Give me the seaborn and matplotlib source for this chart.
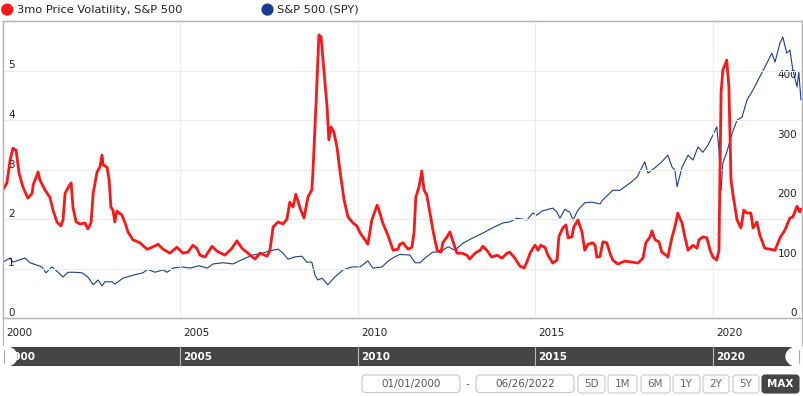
import seaborn as sb
from matplotlib import pyplot as plt
from matplotlib.patches import Ellipse, Circle, FancyBboxPatch

# 3mo price volatility (left axis)
vol_years = [
    2000.00, 2000.11, 2000.20, 2000.28, 2000.37, 2000.45, 2000.56, 2000.70, 2000.82, 2000.85,
    2000.99, 2001.04, 2001.18, 2001.32, 2001.41, 2001.52, 2001.63, 2001.69, 2001.75, 2001.83,
    2001.92, 2001.97, 2002.06, 2002.17, 2002.31, 2002.39, 2002.48, 2002.54, 2002.65, 2002.73,
    2002.79, 2002.82, 2002.93, 2002.99, 2003.04, 2003.10, 2003.15, 2003.21, 2003.35, 2003.44,
    2003.52, 2003.66, 2003.86, 2004.06, 2004.20, 2004.37, 2004.51, 2004.70, 2004.90, 2005.07,
    2005.21, 2005.35, 2005.46, 2005.55, 2005.69, 2005.89, 2006.03, 2006.25, 2006.45, 2006.59,
    2006.73, 2006.90, 2007.10, 2007.24, 2007.44, 2007.52, 2007.61, 2007.75, 2007.89, 2008.00,
    2008.08, 2008.17, 2008.25, 2008.37, 2008.48, 2008.59, 2008.70, 2008.73, 2008.82, 2008.90,
    2008.96, 2009.04, 2009.13, 2009.18, 2009.24, 2009.32, 2009.41, 2009.49, 2009.61, 2009.72,
    2009.86, 2009.97, 2010.06, 2010.20, 2010.28, 2010.39, 2010.54, 2010.59, 2010.70, 2010.85,
    2010.99, 2011.13, 2011.18, 2011.27, 2011.41, 2011.52, 2011.58, 2011.63, 2011.72, 2011.80,
    2011.86, 2011.94, 2012.03, 2012.11, 2012.23, 2012.34, 2012.39, 2012.51, 2012.59, 2012.68,
    2012.79, 2012.93, 2013.07, 2013.15, 2013.30, 2013.44, 2013.52, 2013.63, 2013.77, 2013.92,
    2014.06, 2014.20, 2014.28, 2014.42, 2014.56, 2014.68, 2014.76, 2014.85, 2014.93, 2014.99,
    2015.07, 2015.15, 2015.27, 2015.35, 2015.49, 2015.61, 2015.66, 2015.77, 2015.86, 2015.92,
    2016.03, 2016.08, 2016.20, 2016.31, 2016.39, 2016.48, 2016.62, 2016.68, 2016.73, 2016.82,
    2016.90, 2017.01, 2017.10, 2017.18, 2017.32, 2017.52, 2017.72, 2017.89, 2018.03, 2018.11,
    2018.23, 2018.28, 2018.37, 2018.48, 2018.56, 2018.68, 2018.73, 2018.85, 2018.93, 2019.01,
    2019.13, 2019.21, 2019.30, 2019.44, 2019.55, 2019.61, 2019.72, 2019.83, 2019.92, 2020.00,
    2020.11, 2020.17, 2020.23, 2020.28, 2020.39, 2020.45, 2020.51, 2020.56, 2020.68, 2020.79,
    2020.87, 2020.96, 2021.07, 2021.13, 2021.24, 2021.32, 2021.46, 2021.61, 2021.75, 2021.89,
    2022.03, 2022.17, 2022.25, 2022.37, 2022.45, 2022.48,
]
vol_values = [
    2.59, 2.73, 3.19, 3.43, 3.39, 2.93, 2.65, 2.42, 2.52, 2.69,
    2.95, 2.79, 2.59, 2.44, 2.18, 1.94, 1.86, 1.98, 2.52, 2.63,
    2.73, 2.24, 1.94, 1.90, 1.92, 1.80, 1.92, 2.52, 2.95, 3.05,
    3.29, 3.09, 3.05, 2.79, 2.24, 2.18, 1.94, 2.16, 2.08, 1.92,
    1.74, 1.58, 1.52, 1.39, 1.43, 1.49, 1.39, 1.31, 1.43, 1.31,
    1.33, 1.47, 1.41, 1.27, 1.23, 1.45, 1.35, 1.27, 1.41, 1.56,
    1.41, 1.31, 1.19, 1.31, 1.25, 1.37, 1.84, 1.94, 1.90, 2.00,
    2.34, 2.24, 2.50, 2.22, 2.02, 2.44, 2.59, 2.93, 4.34, 5.72,
    5.68, 5.01, 4.26, 3.60, 3.86, 3.76, 3.45, 2.99, 2.38, 2.04,
    1.92, 1.86, 1.72, 1.58, 1.49, 1.98, 2.28, 2.18, 1.92, 1.66,
    1.37, 1.39, 1.49, 1.52, 1.39, 1.43, 1.72, 2.44, 2.65, 2.97,
    2.59, 2.48, 2.12, 1.78, 1.37, 1.33, 1.52, 1.64, 1.74, 1.54,
    1.31, 1.31, 1.27, 1.19, 1.31, 1.37, 1.45, 1.37, 1.23, 1.27,
    1.21, 1.31, 1.33, 1.21, 1.05, 1.01, 1.13, 1.31, 1.41, 1.47,
    1.37, 1.47, 1.43, 1.27, 1.11, 1.17, 1.64, 1.82, 1.88, 1.62,
    1.64, 1.84, 1.98, 1.74, 1.37, 1.49, 1.52, 1.47, 1.23, 1.24,
    1.54, 1.52, 1.31, 1.17, 1.09, 1.15, 1.13, 1.11, 1.21, 1.52,
    1.64, 1.76, 1.58, 1.54, 1.33, 1.27, 1.23, 1.64, 1.84, 2.12,
    1.92, 1.64, 1.37, 1.47, 1.41, 1.58, 1.64, 1.62, 1.37, 1.23,
    1.17, 1.37, 4.55, 5.01, 5.21, 4.67, 2.79, 2.52, 1.98, 1.82,
    2.18, 2.12, 2.12, 1.82, 1.94, 1.68, 1.41, 1.39, 1.37, 1.62,
    1.78, 2.02, 2.04, 2.26, 2.14, 2.20,
]

# S&P 500 (SPY) price (right axis)
spy_years = [
    2000.00, 2000.20, 2000.28, 2000.62, 2000.76, 2000.96, 2001.10, 2001.21, 2001.38, 2001.55,
    2001.69, 2001.83, 2002.03, 2002.23, 2002.39, 2002.54, 2002.68, 2002.79, 2002.87, 2003.07,
    2003.15, 2003.38, 2003.66, 2003.94, 2004.08, 2004.28, 2004.51, 2004.62, 2004.79, 2005.04,
    2005.27, 2005.52, 2005.75, 2005.92, 2006.20, 2006.48, 2006.76, 2007.04, 2007.30, 2007.52,
    2007.75, 2007.89, 2008.03, 2008.23, 2008.42, 2008.56, 2008.70, 2008.79, 2008.87, 2008.99,
    2009.15, 2009.35, 2009.58, 2009.83, 2010.06, 2010.28, 2010.42, 2010.68, 2010.85, 2011.04,
    2011.18, 2011.46, 2011.61, 2011.75, 2011.89, 2012.11, 2012.31, 2012.54, 2012.73, 2012.96,
    2013.24, 2013.52, 2013.80, 2014.08, 2014.28, 2014.48, 2014.76, 2014.93, 2015.04, 2015.18,
    2015.49, 2015.61, 2015.69, 2015.83, 2015.97, 2016.06, 2016.20, 2016.39, 2016.59, 2016.82,
    2016.90, 2017.18, 2017.38, 2017.66, 2017.86, 2018.08, 2018.17, 2018.37, 2018.56, 2018.73,
    2018.85, 2018.93, 2018.99, 2019.13, 2019.30, 2019.44, 2019.58, 2019.72, 2019.86, 2020.00,
    2020.11, 2020.17, 2020.23, 2020.28, 2020.39, 2020.54, 2020.68, 2020.82, 2020.96, 2021.13,
    2021.32, 2021.52, 2021.66, 2021.75, 2021.89, 2021.97, 2022.08, 2022.17, 2022.25, 2022.37,
    2022.42, 2022.48,
]
spy_values = [
    94, 101, 94, 101, 93, 89, 86, 76, 86, 77,
    69, 77, 77, 76, 69, 56, 64, 54, 61, 61,
    57, 67, 72, 76, 82, 77, 81, 77, 84, 86,
    84, 88, 84, 91, 93, 91, 99, 106, 109, 113,
    116, 109, 99, 103, 104, 94, 94, 72, 64, 67,
    56, 69, 81, 86, 86, 96, 84, 86, 96, 103,
    107, 106, 93, 93, 101, 111, 111, 120, 114, 126,
    135, 143, 152, 160, 162, 168, 165, 177, 173, 180,
    185, 178, 168, 183, 178, 165, 182, 194, 195, 192,
    199, 215, 215, 227, 237, 263, 244, 253, 263, 274,
    254, 249, 221, 254, 274, 266, 288, 279, 291, 308,
    322, 283, 215, 261, 279, 311, 333, 338, 367, 384,
    406, 429, 446, 431, 463, 473, 446, 451, 418, 389,
    414, 367,
]

year_ticks = [2000, 2005, 2010, 2015, 2020]
vol_ticks = [0, 1, 2, 3, 4, 5]
spy_ticks = [0, 100, 200, 300, 400]
range_buttons = ["5D", "1M", "6M", "1Y", "2Y", "5Y", "MAX"]
date_from, date_to = "01/01/2000", "06/26/2022"

RED = "#ff1515"
BLUE = "#1c3b95"
FRAME = "#b4b4b4"
W, H = 804, 396
XLIM = (2000.0, 2022.51)


def px_rect(x0, y0, x1, y1):
    # pixel box (top-left origin) -> figure fraction rect
    return [x0 / W, 1 - y1 / H, (x1 - x0) / W, (y1 - y0) / H]


def draw_main(fig):
    ax = fig.add_axes(px_rect(3, 21, 802, 318))
    ax2 = ax.twinx()

    sb.lineplot(x=spy_years, y=spy_values, ax=ax2, color=BLUE, linewidth=0.8, legend=False)
    sb.lineplot(x=vol_years, y=vol_values, ax=ax, color=RED, linewidth=2.0, legend=False)

    # red line drawn above the blue one
    ax.set_zorder(ax2.get_zorder() + 1)
    ax.patch.set_visible(False)

    ax.set_xlim(*XLIM)
    ax.set_ylim(0, 6)
    ax2.set_ylim(0, 500)
    ax.set_xticks(year_ticks[1:])
    ax.set_yticks(vol_ticks[1:])
    ax.grid(True, color="#ececec", linewidth=0.8)
    ax.tick_params(length=0, labelleft=False, labelbottom=False)
    ax2.tick_params(length=0, labelright=False)
    ax.set_xlabel("")
    ax.set_ylabel("")
    ax2.set_ylabel("")
    for a in (ax, ax2):
        for s in a.spines.values():
            s.set_color(FRAME)
            s.set_linewidth(0.9)

    # tick labels sit inside the plot, just above the gridline
    for v in vol_ticks:
        ax.text(0.0065, v, str(v), transform=ax.get_yaxis_transform(),
                ha="left", va="bottom", fontsize=7.5, color="#222")
    for v in spy_ticks:
        ax2.text(0.9937, v, str(v), transform=ax2.get_yaxis_transform(),
                 ha="right", va="bottom", fontsize=7.5, color="#222")
    return ax


def draw_year_band(fig):
    band = fig.add_axes(px_rect(3, 318, 802, 346))
    band.set_xlim(*XLIM)
    band.set_ylim(0, 1)
    band.set_xticks([])
    band.set_yticks([])
    band.patch.set_visible(False)
    for side in ("top", "bottom"):
        band.spines[side].set_visible(False)
    for side in ("left", "right"):
        band.spines[side].set_color(FRAME)
        band.spines[side].set_linewidth(0.9)
    for yr in year_ticks:
        band.annotate(str(yr), (yr, 0.46), xytext=(2.2, 0), textcoords="offset points",
                      ha="left", va="center", fontsize=7.5, color="#222")


def draw_navigator(fig):
    nav = fig.add_axes(px_rect(3, 347, 802, 366))
    nav.set_facecolor("#454545")
    nav.set_xlim(*XLIM)
    nav.set_ylim(0, 1)
    nav.set_xticks([])
    nav.set_yticks([])
    for s in nav.spines.values():
        s.set_visible(False)
    for yr in year_ticks[1:]:
        nav.axvline(yr, color="#b8b8b8", linewidth=0.8)
    for yr in year_ticks:
        nav.annotate(str(yr), (yr, 0.47), xytext=(2.2, 0), textcoords="offset points",
                     ha="left", va="center", fontsize=7.5, color="white", fontweight="bold")


def draw_ui(fig):
    ui = fig.add_axes([0, 0, 1, 1])
    ui.set_xlim(0, W)
    ui.set_ylim(H, 0)
    ui.axis("off")

    # legend
    ui.add_patch(Circle((7.2, 9.6), 5.4, color=RED))
    ui.text(17.5, 10, "3mo Price Volatility, S&P 500", ha="left", va="center",
            fontsize=8.2, color="#222")
    ui.add_patch(Circle((267.5, 9.6), 5.4, color=BLUE))
    ui.text(277.5, 10, "S&P 500 (SPY)", ha="left", va="center", fontsize=8.2, color="#222")

    # navigator handles
    ui.add_patch(Ellipse((4, 356.5), 26, 20, color="white"))
    ui.plot([4, 4], [350, 363], color="#aaa", linewidth=0.8)
    ui.add_patch(Ellipse((799, 356.5), 26, 20, color="white"))
    ui.plot([799, 799], [350, 363], color="#aaa", linewidth=0.8)

    # date inputs
    for x0, x1, label in [(362, 460, date_from), (476, 574, date_to)]:
        ui.add_patch(FancyBboxPatch((x0, 375), x1 - x0, 17.5,
                                    boxstyle="round,pad=0,rounding_size=4",
                                    facecolor="white", edgecolor="#c8c8c8", linewidth=0.8))
        ui.text((x0 + x1) / 2, 384, label, ha="center", va="center", fontsize=7.5, color="#555")
    ui.text(467.5, 384, "-", ha="center", va="center", fontsize=7.5, color="#555")

    # range buttons
    spans = [(578, 605), (608, 637), (641, 670), (673, 700), (703, 729), (733, 759), (762, 799)]
    for (x0, x1), label in zip(spans, range_buttons):
        active = label == "MAX"
        ui.add_patch(FancyBboxPatch((x0, 375), x1 - x0, 18,
                                    boxstyle="round,pad=0,rounding_size=3",
                                    facecolor="#454545" if active else "white",
                                    edgecolor="#454545" if active else "#c8c8c8",
                                    linewidth=0.8))
        ui.text((x0 + x1) / 2, 384, label, ha="center", va="center", fontsize=7.5,
                color="white" if active else "#666",
                fontweight="bold" if active else "normal")


def main():
    sb.set_style("white")
    plt.rcParams["font.family"] = ["DejaVu Sans"]

    fig = plt.figure(figsize=(W / 100, H / 100), dpi=100)
    fig.patch.set_facecolor("white")

    draw_main(fig)
    draw_year_band(fig)
    draw_navigator(fig)
    draw_ui(fig)

    plt.savefig("out.png", dpi=100)


if __name__ == "__main__":
    main()
